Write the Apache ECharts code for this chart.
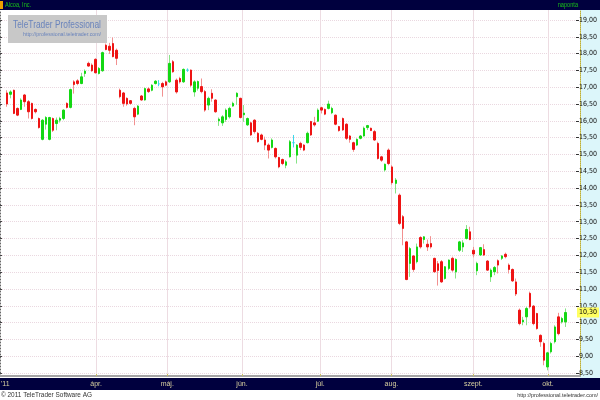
<!DOCTYPE html>
<html><head><meta charset="utf-8">
<script src="https://cdn.jsdelivr.net/npm/echarts@6.0.0/dist/echarts.min.js"></script>
<style>html,body{margin:0;padding:0;background:#fff}#c{width:600px;height:400px}</style>
</head><body><div id="c"></div>
<script>
const titleText = 'Alcoa, Inc.';
const periodText = 'naponta';
const yearLabel = "'11";
const copyrightText = '\u00a9 2011 TeleTrader Software AG';
const urlText = 'http://professional.teletrader.com/';
const brandText = 'TeleTrader Professional';

const monthNames = ['febr.', 'márc.', 'ápr.', 'máj.', 'jún.', 'júl.', 'aug.', 'szept.', 'okt.'];
const monthTradingDays = [2, 23, 20, 21, 22, 20, 23, 21, 7];
const labeledMonths = ['ápr.', 'máj.', 'jún.', 'júl.', 'aug.', 'szept.', 'okt.'];

const yMin = 8.5, yMax = 19, yStep = 0.5;

const open = [16.83,16.79,16.91,16.37,16.34,16.77,16.57,16.52,16.34,16.07,
15.45,15.90,15.45,16.07,15.92,16.02,16.07,16.52,16.40,17.16,
17.19,17.11,17.41,17.71,17.66,17.83,17.41,17.49,18.25,18.22,
18.30,18.10,16.91,16.83,16.67,16.60,16.37,16.20,16.74,16.62,
16.95,16.91,17.11,17.10,17.11,17.16,17.16,17.76,17.21,17.26,
17.16,17.51,17.51,16.86,16.97,17.02,16.87,16.47,16.82,16.62,
16.00,15.94,16.04,16.12,16.44,16.72,16.67,16.18,15.88,15.94,
16.02,15.63,15.58,15.43,15.28,15.21,15.18,14.91,14.85,14.68,
14.93,15.35,14.98,15.33,15.28,15.35,15.98,15.94,15.99,16.39,
16.34,16.37,16.24,16.17,15.83,16.07,15.90,15.55,15.35,15.28,
15.48,15.55,15.80,15.78,15.68,15.33,14.93,14.54,15.13,14.63,
14.14,13.79,13.15,12.40,11.76,11.98,11.81,12.53,12.47,12.33,
12.35,11.91,11.75,11.81,11.31,11.61,11.91,11.51,12.15,12.25,
12.50,12.70,12.15,11.54,12.01,12.17,11.83,11.36,11.51,11.84,
11.91,12.03,11.71,11.58,11.21,10.37,10.02,10.17,10.87,10.49,
10.27,9.62,9.38,8.68,9.13,9.43,10.17,10.02,10.02];

const high = [16.91,16.91,16.93,16.40,16.67,16.80,16.62,16.54,16.37,16.10,
16.05,16.14,16.12,16.10,16.10,16.12,16.34,16.55,16.96,17.21,
17.24,17.43,17.53,17.76,17.71,17.86,17.60,18.06,18.30,18.32,
18.48,18.15,16.96,16.86,16.70,16.62,16.42,16.47,16.77,16.99,
17.00,17.09,17.21,17.21,17.16,17.20,17.96,17.81,17.26,17.31,
17.56,17.56,17.53,17.21,17.20,17.26,16.92,16.72,16.94,16.64,
16.10,16.17,16.37,16.42,16.57,16.85,16.69,16.47,16.10,15.97,
16.05,15.67,15.62,15.53,15.33,15.48,15.21,14.93,14.88,14.83,
15.43,15.58,15.31,15.38,15.31,15.68,16.00,16.12,16.37,16.42,
16.37,16.60,16.42,16.19,15.85,16.10,15.93,15.58,15.38,15.48,
15.58,15.83,15.88,15.80,15.73,15.38,14.96,14.73,15.18,14.68,
14.30,13.84,13.20,12.43,12.25,12.01,12.35,12.57,12.57,12.47,
12.57,11.93,11.83,11.86,11.68,11.88,11.96,11.91,12.43,12.45,
12.90,12.85,12.25,11.81,12.25,12.33,11.86,11.61,11.68,11.88,
12.01,12.08,11.76,11.61,11.31,10.42,10.17,10.47,10.92,10.52,
10.29,9.65,9.43,9.13,9.43,9.92,10.29,10.17,10.42];

const low = [16.42,16.67,16.20,16.14,16.32,16.42,16.07,16.04,16.22,15.77,
15.42,15.74,15.42,15.67,15.72,15.95,16.02,16.37,16.37,16.81,
17.06,17.09,17.31,17.61,17.46,17.41,17.38,17.46,18.10,17.99,
17.89,17.66,16.67,16.42,16.45,16.48,15.87,16.17,16.60,16.60,
16.83,16.88,17.08,17.03,16.72,17.03,17.13,17.43,16.81,17.11,
17.13,17.46,17.01,16.72,16.90,16.82,16.27,16.32,16.57,16.24,
15.85,15.85,15.97,16.07,16.42,16.47,16.07,15.97,15.85,15.55,
15.62,15.35,15.42,15.13,14.88,15.18,14.88,14.59,14.68,14.59,
14.91,15.21,14.73,15.13,15.10,15.33,15.55,15.83,15.97,16.22,
16.17,16.34,16.20,15.87,15.68,15.70,15.43,15.35,15.08,15.25,
15.45,15.53,15.73,15.70,15.41,14.85,14.78,14.49,14.68,14.10,
13.84,12.90,12.30,11.26,11.36,11.51,11.76,12.20,12.35,12.13,
12.20,11.48,11.10,11.18,11.28,11.56,11.51,11.31,12.10,12.10,
12.47,12.45,11.94,11.41,11.98,11.98,11.54,11.21,11.41,11.46,
11.86,11.91,11.46,11.21,10.79,9.92,9.92,9.92,10.42,9.92,
9.79,9.28,8.73,8.58,9.08,9.38,9.62,9.97,9.87];

const close = [16.50,16.86,16.22,16.17,16.62,16.57,16.27,16.07,16.27,15.80,
16.02,16.10,16.10,15.72,16.02,16.07,16.32,16.40,16.93,17.08,
17.11,17.31,17.48,17.63,17.49,17.43,17.56,18.03,18.12,18.10,
17.91,17.86,16.72,16.52,16.50,16.52,16.12,16.44,16.62,16.96,
16.87,17.06,17.18,17.10,17.01,17.06,17.71,17.46,16.86,17.16,
17.53,17.51,17.06,17.16,17.17,16.87,16.32,16.67,16.67,16.27,
16.05,16.12,16.32,16.37,16.52,16.82,16.10,16.23,16.07,15.58,
15.68,15.38,15.45,15.28,15.13,15.43,14.93,14.63,14.73,14.78,
15.38,15.35,15.28,15.21,15.13,15.63,15.58,15.88,16.32,16.32,
16.20,16.50,16.37,15.90,15.71,15.73,15.48,15.45,15.15,15.45,
15.55,15.78,15.86,15.71,15.43,14.88,14.83,14.71,14.73,14.16,
14.24,12.95,12.80,11.28,12.20,11.58,12.25,12.25,12.55,12.25,
12.25,11.51,11.55,11.21,11.66,11.86,11.56,11.88,12.40,12.37,
12.77,12.47,12.04,11.76,12.23,12.01,11.56,11.56,11.64,11.71,
11.98,11.96,11.58,11.24,10.85,9.97,10.07,10.42,10.47,9.97,
9.82,9.43,8.88,9.10,9.38,9.87,9.67,10.12,10.30];

// ---- build categories (trading days) ----
const LEAD = 2, TRAIL = 3;
const cats = [];
const monthStartAt = {};
for (let k = 0; k < LEAD; k++) cats.push('lead' + k);
monthNames.forEach((m, mi) => {
  for (let d = 1; d <= monthTradingDays[mi]; d++) {
    if (d === 1) monthStartAt[cats.length] = m;
    cats.push(m + '|' + d);
  }
});
for (let k = 0; k < TRAIL; k++) cats.push('trail' + k);
const isMonthTick = (idx) => labeledMonths.indexOf(monthStartAt[idx]) >= 0;

const UP = '#14d814', DOWN = '#ee1414', UP_W = '#86e486', DOWN_W = '#f29090', DOJI = '#3ad8ea';
const emptyItem = ['-', '-', '-', '-'];
const wickData = [], bodyData = [];
for (let k = 0; k < LEAD; k++) { wickData.push(emptyItem); bodyData.push(emptyItem); }
close.forEach((c, i) => {
  const o = open[i];
  const full = [o, c, low[i], high[i]];
  const body = [o, c, Math.min(o, c), Math.max(o, c)];
  if (o === c) {
    const st = { color: DOJI, color0: DOJI, borderColor: DOJI, borderColor0: DOJI };
    wickData.push({ value: full, itemStyle: st });
    bodyData.push({ value: body, itemStyle: st });
  } else {
    wickData.push(full);
    bodyData.push(body);
  }
});
for (let k = 0; k < TRAIL; k++) { wickData.push(emptyItem); bodyData.push(emptyItem); }

const fmt = v => Number(v).toFixed(2).replace('.', ',');
const lastClose = close[close.length - 1];
const NAVY = '#00003e';
const LBL_FONT = "'Liberation Sans Narrow', 'DejaVu Sans Condensed', 'Liberation Sans', sans-serif";

const chart = echarts.init(document.getElementById('c'), null, { renderer: 'canvas' });
chart.setOption({
  animation: false,
  backgroundColor: '#ffffff',
  grid: [
    { left: 0, right: 20, top: 20, bottom: 27 },
    { left: 0, right: 20, top: 10, bottom: 24 }
  ],
  xAxis: [
    { type: 'category', gridIndex: 0, data: cats, boundaryGap: false,
      axisLine: { show: false }, axisTick: { show: false }, axisLabel: { show: false }, splitLine: { show: false } },
    { type: 'category', gridIndex: 1, data: cats, boundaryGap: false, position: 'bottom',
      axisLine: { show: true, onZero: false, lineStyle: { color: '#a4a4a4', width: 2 } },
      axisTick: { show: true, interval: isMonthTick, inside: true, length: 2, lineStyle: { color: '#c8c060' } },
      axisLabel: { show: true, interval: isMonthTick, formatter: v => v.split('|')[0],
        color: '#d8d0a0', fontSize: 7, fontFamily: 'Liberation Sans', margin: 5 },
      splitLine: { show: true, interval: isMonthTick, lineStyle: { color: '#eddce2', width: 1 } } }
  ],
  yAxis: [
    { type: 'value', gridIndex: 0, position: 'right', min: yMin, max: yMax, interval: yStep,
      axisLine: { show: false },
      axisTick: { show: true, length: 3, lineStyle: { color: '#333' } },
      axisLabel: { formatter: fmt, fontSize: 7, color: '#111', margin: 3, fontFamily: LBL_FONT },
      splitLine: { show: true, lineStyle: { color: '#ead8e0', type: [1, 1] } } },
    { type: 'value', gridIndex: 0, position: 'left', min: yMin, max: yMax, interval: yStep,
      axisLine: { show: false },
      axisTick: { show: true, inside: true, length: 2, lineStyle: { color: '#444' } },
      axisLabel: { show: false }, splitLine: { show: false } },
    { type: 'value', gridIndex: 1, position: 'right',
      axisLine: { show: true, lineStyle: { color: '#c0b030', type: [1, 1] } },
      axisTick: { show: false }, axisLabel: { show: false }, splitLine: { show: false } },
    { type: 'value', gridIndex: 1, position: 'left',
      axisLine: { show: true, lineStyle: { color: '#666', type: [1, 2] } },
      axisTick: { show: false }, axisLabel: { show: false }, splitLine: { show: false } }
  ],
  series: [
    { type: 'candlestick', xAxisIndex: 0, yAxisIndex: 0, data: wickData, barWidth: 0, silent: true,
      itemStyle: { color: UP_W, color0: DOWN_W, borderColor: UP_W, borderColor0: DOWN_W, borderWidth: 1 } },
    { type: 'candlestick', xAxisIndex: 0, yAxisIndex: 0, data: bodyData, barWidth: 2, silent: true,
      itemStyle: { color: UP, color0: DOWN, borderColor: UP, borderColor0: DOWN, borderWidth: 1 },
      markLine: { symbol: 'none', silent: true, animation: false, z: 20,
        lineStyle: { color: 'rgba(0,0,0,0)', width: 0, type: 'solid' },
        label: { show: true, position: 'end', formatter: () => fmt(lastClose), backgroundColor: '#ffff60',
          color: '#000', opacity: 1, fontSize: 7, fontFamily: LBL_FONT, padding: [2, 2, 1, 2], distance: 1 },
        data: [{ yAxis: lastClose }] } }
  ],
  graphic: [
    { type: 'rect', z: -1, shape: { x: 580, y: 10, width: 20, height: 368 }, style: { fill: '#dcf6fa' } },
    { type: 'rect', z: -1, shape: { x: 0, y: 0, width: 600, height: 10 }, style: { fill: NAVY } },
    { type: 'rect', z: -1, shape: { x: 0, y: 378, width: 600, height: 12 }, style: { fill: NAVY } },
    { type: 'rect', z: 1, shape: { x: 0, y: 1, width: 3, height: 8 }, style: { fill: '#f0a000' } },
    { type: 'text', z: 10, x: 5, y: 5, scaleX: 0.8,
      style: { text: titleText, fill: '#18c018', font: '7px Liberation Sans', verticalAlign: 'middle' } },
    { type: 'text', z: 10, x: 578, y: 5, scaleX: 0.8,
      style: { text: periodText, fill: '#18c018', font: '7px Liberation Sans', align: 'right', verticalAlign: 'middle' } },
    { type: 'text', z: 10, x: 1, y: 384,
      style: { text: yearLabel, fill: '#d8d0a0', font: '7px Liberation Sans', align: 'left', verticalAlign: 'middle' } },
    { type: 'text', z: 10, x: 1, y: 395, scaleX: 0.92,
      style: { text: copyrightText, fill: '#333', font: '7px Liberation Sans', align: 'left', verticalAlign: 'middle' } },
    { type: 'text', z: 10, x: 598, y: 395, scaleX: 0.91,
      style: { text: urlText, fill: '#333', font: '6px Liberation Sans', align: 'right', verticalAlign: 'middle' } },
    { type: 'rect', z: 5, shape: { x: 8, y: 15, width: 99, height: 28 }, style: { fill: '#c8c8c8' } },
    { type: 'text', z: 10, x: 13, y: 24.5, scaleX: 0.76,
      style: { text: brandText, fill: '#6a84bc', font: '11px Liberation Sans', align: 'left', verticalAlign: 'middle' } },
    { type: 'text', z: 10, x: 23, y: 34.5, scaleX: 0.88,
      style: { text: urlText, fill: '#6a84bc', font: '6px Liberation Sans', align: 'left', verticalAlign: 'middle' } }
  ]
});
</script>
</body></html>
